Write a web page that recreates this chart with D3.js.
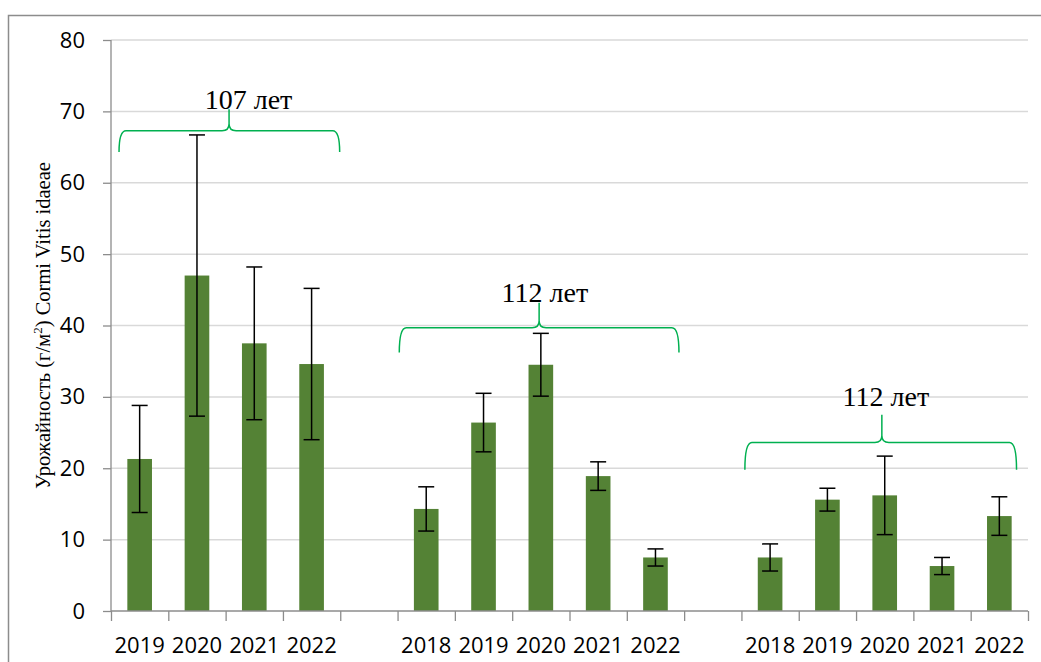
<!DOCTYPE html>
<meta charset="utf-8">
<html>
<head>
  <script src="https://d3js.org/d3.v7.min.js"></script>
  <style>
    body { margin: 0; background: white; }
    .axis text { font-family: "Open Sans", sans-serif; font-size: 22px; fill: black; }
    .axis path { display: none; }
    .axis line { stroke: #8c8c8c; stroke-width: 1.3; }
    .grid line { stroke: #d9d9d9; stroke-width: 1.5; }
    .bar { fill: #548235; }
    .err { stroke: black; stroke-width: 1.5; fill: none; }
    .brace { stroke: #00b050; stroke-width: 1.5; fill: none; }
    .note { font-family: "Liberation Serif", "Times New Roman", serif; font-size: 28px; fill: black; }
    .ylab { font-family: "Liberation Serif", "Times New Roman", serif; font-size: 20.5px; fill: black; }
  </style>
</head>
<body>
<script>
  // category labels, "" = gap between groups
  var years = ["2019", "2020", "2021", "2022", "",
               "2018", "2019", "2020", "2021", "2022", "",
               "2018", "2019", "2020", "2021", "2022"];
  // mean harvest, null where nothing is drawn
  var values = [21.3, 47.0, 37.5, 34.6, null,
                14.3, 26.4, 34.5, 18.9, 7.5, null,
                7.5, 15.6, 16.2, 6.3, 13.3];
  // error (+/-)
  var errors = [7.5, 19.7, 10.7, 10.6, null,
                3.1, 4.1, 4.4, 2.0, 1.2, null,
                1.9, 1.6, 5.5, 1.2, 2.7];
  var yTicks = [0, 10, 20, 30, 40, 50, 60, 70, 80];

  // braces over the groups (x in category slots, y in data units)
  var braceLabels = ["107 лет", "112 лет", "112 лет"];
  var braceFrom = [0.14, 5.03, 11.06];
  var braceTo = [3.99, 9.91, 15.80];
  var bracePeak = [2.06, 7.47, 13.45];
  var braceLine = [67.3, 39.7, 23.6];
  var braceEnd = [64.3, 36.2, 19.8];
  var braceTop = [70.3, 43.2, 27.5];
  var labelX = [2.40, 7.57, 13.52];
  var labelY = [70.4, 43.3, 28.7];

  var W = 1041, H = 662;
  var pl = 111, pr = 1028, pt = 40, pb = 611;

  var svg = d3.select("body").append("svg")
    .attr("width", W)
    .attr("height", H);

  // outer frame
  svg.append("rect")
    .attr("x", 8.5).attr("y", 15.5)
    .attr("width", 1100).attr("height", 700)
    .attr("fill", "none").attr("stroke", "#8c8c8c").attr("stroke-width", 1.5);

  var y = d3.scaleLinear().domain([0, 80]).range([pb, pt]);
  var slot = d3.scaleLinear().domain([0, years.length]).range([pl, pr]);
  var x = d3.scaleBand()
    .domain(d3.range(years.length))
    .range([pl, pr])
    .paddingInner(0.57)
    .paddingOuter(0.285);

  // gridlines
  svg.append("g")
    .attr("class", "grid")
    .selectAll("line")
    .data(yTicks.filter(function(d) { return d > 0; }))
    .enter().append("line")
    .attr("x1", pl).attr("x2", pr)
    .attr("y1", function(d) { return y(d); })
    .attr("y2", function(d) { return y(d); });

  var idx = d3.range(years.length).filter(function(i) { return values[i] != null; });

  // bars
  svg.selectAll(".bar")
    .data(idx)
    .enter().append("rect")
    .attr("class", "bar")
    .attr("x", function(i) { return x(i); })
    .attr("width", x.bandwidth())
    .attr("y", function(i) { return y(values[i]); })
    .attr("height", function(i) { return y(0) - y(values[i]); });

  // error bars
  var eb = svg.selectAll(".eb")
    .data(idx)
    .enter().append("g").attr("class", "err");
  eb.append("line")
    .attr("x1", function(i) { return x(i) + x.bandwidth() / 2; })
    .attr("x2", function(i) { return x(i) + x.bandwidth() / 2; })
    .attr("y1", function(i) { return y(values[i] + errors[i]); })
    .attr("y2", function(i) { return y(values[i] - errors[i]); });
  [1, -1].forEach(function(s) {
    eb.append("line")
      .attr("x1", function(i) { return x(i) + x.bandwidth() / 2 - 8; })
      .attr("x2", function(i) { return x(i) + x.bandwidth() / 2 + 8; })
      .attr("y1", function(i) { return y(values[i] + s * errors[i]); })
      .attr("y2", function(i) { return y(values[i] + s * errors[i]); });
  });

  // y axis
  var yAxis = svg.append("g")
    .attr("class", "axis")
    .attr("transform", "translate(" + pl + ",0)")
    .call(d3.axisLeft(y).tickValues(yTicks).tickSize(8).tickPadding(18));
  yAxis.append("line")
    .attr("x1", 0).attr("x2", 0)
    .attr("y1", pt).attr("y2", pb);

  // x axis: boundary ticks + labels
  var xAxis = svg.append("g")
    .attr("class", "axis")
    .attr("transform", "translate(0," + pb + ")")
    .call(d3.axisBottom(slot).tickValues(d3.range(years.length + 1)).tickFormat("").tickSize(10));
  xAxis.append("line")
    .attr("x1", pl).attr("x2", pr)
    .attr("y1", 0).attr("y2", 0);

  svg.append("g")
    .attr("class", "axis")
    .attr("transform", "translate(0," + pb + ")")
    .call(d3.axisBottom(x).tickSize(0).tickPadding(26).tickFormat(function(i) { return years[i]; }));

  // y label
  var yl = svg.append("text")
    .attr("class", "ylab")
    .attr("transform", "translate(50," + ((pt + pb) / 2) + ") rotate(-90)")
    .attr("text-anchor", "middle");
  yl.append("tspan").text("Урожайность (г/м");
  yl.append("tspan").attr("font-size", "13px").attr("dy", "-8").text("2");
  yl.append("tspan").attr("dy", "8").text(") Cormi Vitis idaeae");

  // braces
  braceLabels.forEach(function(lab, k) {
    var xl = slot(braceFrom[k]), xr = slot(braceTo[k]), xm = slot(bracePeak[k]);
    var yh = y(braceLine[k]), ye = y(braceEnd[k]), yt = y(braceTop[k]);
    var r = 7;
    var p = "M" + xl + "," + ye +
      "Q" + xl + "," + yh + " " + (xl + r) + "," + yh +
      "L" + (xm - r) + "," + yh +
      "Q" + xm + "," + yh + " " + xm + "," + (yh - r) +
      "L" + xm + "," + yt +
      "M" + xm + "," + (yh - r) +
      "Q" + xm + "," + yh + " " + (xm + r) + "," + yh +
      "L" + (xr - r) + "," + yh +
      "Q" + xr + "," + yh + " " + xr + "," + ye;
    svg.append("path").attr("class", "brace").attr("d", p);
    svg.append("text")
      .attr("class", "note")
      .attr("x", slot(labelX[k]))
      .attr("y", y(labelY[k]))
      .attr("text-anchor", "middle")
      .text(lab);
  });
</script>
</body>
</html>
